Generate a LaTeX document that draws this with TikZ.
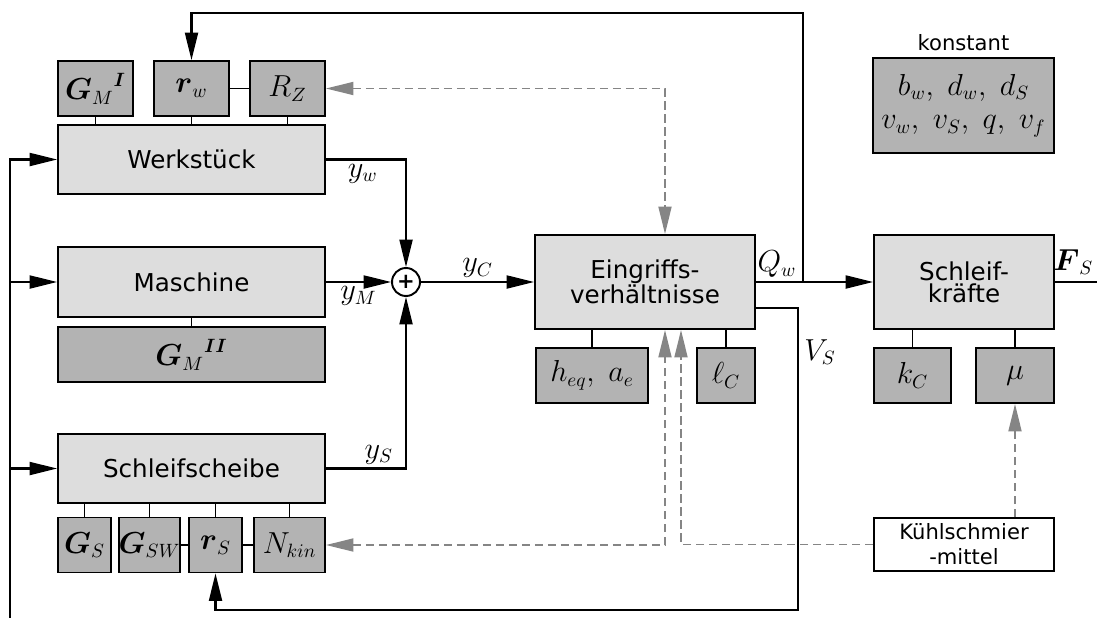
\documentclass[tikz,border=0pt]{standalone}
\usepackage{amsmath}
\usepackage{fontspec}
\setsansfont{DejaVu Sans}
\usetikzlibrary{arrows.meta}

\definecolor{boxlight}{HTML}{DDDDDD}
\definecolor{boxdark}{HTML}{B3B3B3}
\definecolor{dashgray}{HTML}{858585}

\tikzset{
  block/.style={draw, line width=1.1pt, fill=boxlight, align=center, inner sep=0pt,
    font=\sffamily\fontsize{14}{12.5}\selectfont, minimum width=53.4mm, minimum height=13.8mm},
  param/.style={draw, line width=1.1pt, fill=boxdark, inner sep=0pt,
    font=\fontsize{16}{18}\selectfont, minimum height=11mm},
  sumnode/.style={draw, circle, line width=1.1pt, fill=white, inner sep=0pt, minimum size=5.6mm,
    font=\sffamily\bfseries\fontsize{12}{12}\selectfont},
  lbl/.style={font=\fontsize{16}{18}\selectfont, inner sep=2pt},
  link/.style={line width=1pt},
  sig/.style={line width=1.2pt, ->},
  dsh/.style={line width=1.1pt, dashgray, dash pattern=on 1.7mm off 0.9mm, ->},
  dsh2/.style={dsh, <->}
}

\begin{document}
\begin{tikzpicture}[x=0.2mm, y=-0.2mm, >={Triangle[length=5.5mm, width=2.6mm]}]
\useasboundingbox (0,0) rectangle (1097,617);

% Werkstueck
\node[block] (wst) at (191.5,159.5) {Werkstück};
\node[param, minimum width=15mm] (gmi) at (95.5,88.5) {${\boldsymbol{G}_M}^{\boldsymbol{I}}$};
\node[param, minimum width=15mm] (rw) at (191.5,88.5) {$\boldsymbol{r}_w$};
\node[param, minimum width=15mm] (rz) at (287.5,88.5) {$R_Z$};
\foreach \p in {gmi,rw,rz} \draw[link] (\p.south) -- (\p.south |- wst.north);
\draw[link] (rw) -- (rz);

% Maschine
\node[block, minimum height=14mm] (msch) at (191.5,282) {Maschine};
\node[param, minimum width=53.4mm] (gmii) at (191.5,354.5) {${\boldsymbol{G}_M}^{\boldsymbol{II}}$};
\draw[link] (gmii.north) -- (gmii.north |- msch.south);

% Schleifscheibe
\node[block] (ssch) at (191.5,468.5) {Schleifscheibe};
\node[param, minimum width=10.6mm] (gs) at (84.5,545) {$\boldsymbol{G}_S$};
\node[param, minimum width=10.6mm] (gsw) at (149.5,545) {$\boldsymbol{G}_{SW}$};
\node[param, minimum width=10.6mm] (rs) at (215.5,545) {$\boldsymbol{r}_S$};
\node[param, minimum width=14.2mm] (nkin) at (289.5,545) {$N_{kin}$};
\foreach \p in {gs,gsw,rs,nkin} \draw[link] (\p.north) -- (\p.north |- ssch.south);
\draw[link] (gsw) -- (rs) -- (nkin);

% Eingang links
\coordinate (in) at (10,630);
\draw[sig] (in) |- (wst.west);
\draw[sig] (in |- msch.west) -- (msch.west);
\draw[sig] (in |- ssch.west) -- (ssch.west);

% Summenstelle
\node[sumnode] (sum) at (406,282) {+};
\draw[sig] (wst.east) -| node[lbl, pos=0.23, below] {$y_w$} (sum.north);
\draw[sig] (msch.east) -- node[lbl, below] {$y_M$} (sum.west);
\draw[sig] (ssch.east) -| node[lbl, pos=0.33, above] {$y_S$} (sum.south);

% Eingriffsverhaeltnisse
\node[block, minimum width=44mm, minimum height=18.8mm] (eing) at (645,282) {Eingriffs-\\verhältnisse};
\node[param, minimum width=22.4mm] (heq) at (592,375.5) {$h_{eq},\ a_e$};
\node[param, minimum width=11.6mm] (lc) at (726,375.5) {$\ell_C$};
\foreach \p in {heq,lc} \draw[link] (\p.north) -- (\p.north |- eing.south);
\draw[sig] (sum.east) -- node[lbl, above] {$y_C$} (eing.west);

% Schleifkraefte
\node[block, minimum width=36mm, minimum height=18.8mm] (skr) at (964,282) {Schleif-\\kräfte};
\node[param, minimum width=15.4mm] (kc) at (912.5,375.5) {$k_C$};
\node[param, minimum width=15.6mm] (mu) at (1015,375.5) {$\mu$};
\foreach \p in {kc,mu} \draw[link] (\p.north) -- (\p.north |- skr.south);
\draw[sig] (eing.east) -- node[lbl, pos=0.18, above] {$Q_w$} (skr.west);
\coordinate (fs) at (1110,282);
\draw[sig, -] (skr.east) -- (fs);
\node[lbl, anchor=east] (lfs) at (1097,262) {$\boldsymbol{F}_S$};

% Rueckfuehrungen
\coordinate (qw) at (803,282);
\coordinate (qtop) at (803,13);
\draw[sig] (qw) -- (qtop) -| (rw.north);
\coordinate (vs) at (798,610);
\draw[sig] ([yshift=-5.2mm]eing.east) -| (vs) -| (rs.south);
\node[lbl] (lvs) at (820,352) {$V_S$};

% konstante Groessen
\node[param, minimum width=36.2mm, minimum height=19mm, align=center,
  font=\fontsize{16}{19}\selectfont] (konst) at (963.5,105.5) {$b_w,\ d_w,\ d_S$\\$v_w,\ v_S,\ q,\ v_f$};
\node[font=\sffamily\fontsize{12}{14}\selectfont] (lkonst) at (963.5,43) {konstant};

% Kuehlschmiermittel
\node[draw, fill=white, line width=1.1pt, minimum width=36mm, minimum height=10.6mm, inner sep=0pt,
  align=center, font=\sffamily\fontsize{12}{14.2}\selectfont] (kuehl) at (964,544.5) {Kühlschmier\\-mittel};

% Einfluesse (gestrichelt)
\draw[dsh2] (rz.east) -| ([xshift=4mm]eing.north);
\draw[dsh2] (nkin.east) -| ([xshift=4mm]eing.south);
\draw[dsh] (kuehl.west) -| ([xshift=7.2mm]eing.south);
\draw[dsh] (mu.south |- kuehl.north) -- (mu.south);
\end{tikzpicture}
\end{document}
